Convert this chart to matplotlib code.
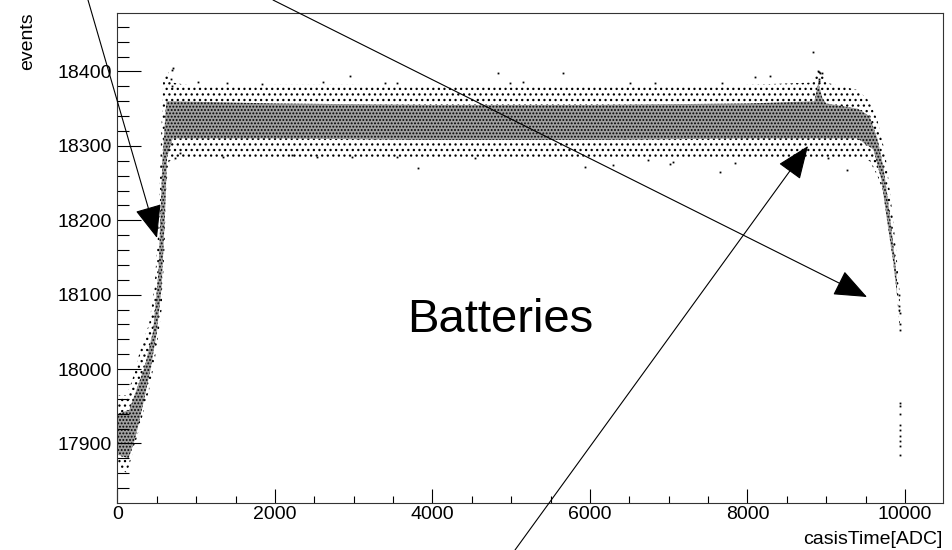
import numpy as np
import matplotlib
matplotlib.use('Agg')
import matplotlib.pyplot as plt
from matplotlib.patches import FancyArrowPatch

plt.rcParams['font.family'] = ['Liberation Sans', 'DejaVu Sans']
plt.rcParams['hatch.linewidth'] = 0.9

# outer envelope of the scatter cloud, upper edge then lower edge
outer_upper_x = [0, 120, 200, 300, 400, 470, 520, 550, 580, 640, 700, 1000, 2000, 3000, 4000,
                 5000, 6000, 7000, 8000, 8800, 8880, 8950, 9000, 9400, 9550, 9650, 9750,
                 9820, 9880, 9920, 9935]
outer_upper_y = [17965, 17965, 17990, 18030, 18060, 18110, 18190, 18300, 18390, 18400, 18385,
                 18380, 18382, 18382, 18380, 18380, 18380, 18380, 18382, 18385, 18400, 18400,
                 18385, 18375, 18360, 18335, 18290, 18230, 18170, 18120, 18100]
outer_lower_x = [9935, 9900, 9860, 9800, 9720, 9650, 9550, 9400, 9000, 8000, 7000, 6000, 5000,
                 4000, 3000, 2000, 1000, 660, 620, 600, 560, 500, 420, 300, 200, 120, 0]
outer_lower_y = [18050, 18100, 18140, 18185, 18240, 18260, 18280, 18285, 18285, 18282, 18282,
                 18282, 18282, 18282, 18285, 18285, 18285, 18280, 18250, 18170, 18080, 18030,
                 17980, 17930, 17890, 17860, 17870]

# dense core of the cloud
core_upper_x = [0, 150, 250, 350, 450, 520, 570, 620, 700, 2000, 4000, 6000, 8000, 8850, 8900,
                8950, 9000, 9400, 9550, 9650, 9730, 9800, 9860, 9900]
core_upper_y = [17940, 17945, 17975, 18005, 18050, 18130, 18280, 18360, 18360, 18357, 18355,
                18355, 18357, 18360, 18385, 18365, 18357, 18350, 18340, 18310, 18270, 18215,
                18160, 18120]
core_lower_x = [9900, 9850, 9780, 9700, 9600, 9400, 8000, 6000, 4000, 2000, 700, 630, 600, 560,
                500, 420, 320, 220, 140, 0]
core_lower_y = [18100, 18145, 18195, 18255, 18295, 18310, 18310, 18308, 18308, 18310, 18310,
                18285, 18200, 18110, 18050, 18000, 17950, 17905, 17880, 17885]

# isolated points outside the band
stray_x = [690, 700, 680, 690, 1022, 1390, 1835, 2952, 2610, 3397, 3550, 1340, 730, 2216, 2533,
           2978, 3550, 794, 4835, 5657, 3820, 5937, 7016, 4985, 5150, 6508, 6825, 6292, 4540,
           6737, 8832, 8895, 8920, 8946, 8905, 8915, 8095, 8286, 7676, 7054, 7651, 7841, 9263,
           9022, 9925, 9930, 9930, 9932, 9935, 9935, 9940, 9940, 9940, 9940, 9940, 9940, 9940,
           9940, 9940]
stray_y = [18402, 18405, 18390, 18380, 18386, 18385, 18383, 18394, 18386, 18385, 18385, 18285,
           18284, 18288, 18285, 18285, 18285, 18290, 18398, 18398, 18270, 18272, 18276, 18385,
           18386, 18385, 18385, 18274, 18284, 18281, 18426, 18400, 18398, 18398, 18390, 18387,
           18393, 18394, 18385, 18278, 18265, 18277, 18267, 18284, 18099, 18085, 18080, 18076,
           18060, 18053, 17954, 17950, 17940, 17925, 17918, 17910, 17903, 17896, 17884]

x_ticks = [0, 2000, 4000, 6000, 8000, 10000]
y_ticks = [17900, 18000, 18100, 18200, 18300, 18400]

W, H = 953, 550
fig = plt.figure(figsize=(W / 100, H / 100), dpi=100)
ax = fig.add_axes([117.5 / W, 47 / H, 825.2 / W, 490.3 / H])

outer_x = outer_upper_x + outer_lower_x
outer_y = outer_upper_y + outer_lower_y
core_x = core_upper_x + core_lower_x
core_y = core_upper_y + core_lower_y
ax.fill(outer_x, outer_y, facecolor='none', edgecolor='black', linewidth=0, hatch='...')
ax.fill(core_x, core_y, facecolor='#a0a0a0', edgecolor='black', linewidth=0, hatch='.....')
ax.plot(stray_x, stray_y, 's', color='black', markersize=1.3, markeredgewidth=0)

ax.set_xlim(0, 10480)
ax.set_ylim(17820, 18479)
ax.set_xticks(x_ticks)
ax.set_yticks(y_ticks)
ax.set_xticks(np.arange(0, 10480, 500), minor=True)
ax.set_yticks(np.arange(17840, 18479, 20), minor=True)
ax.tick_params(axis='x', which='major', direction='in', length=10, width=0.8, pad=2.5,
               labelsize=14, colors='black')
ax.tick_params(axis='x', which='minor', direction='in', length=5, width=0.8)
ax.tick_params(axis='y', which='major', direction='in', length=17, width=0.8, pad=4,
               labelsize=14, colors='black')
ax.tick_params(axis='y', which='minor', direction='in', length=8.6, width=0.8)
for sp in ax.spines.values():
    sp.set_linewidth(0.8)
    sp.set_color('#333333')

fig.text(27.5 / W, 1 - 12.7 / H, 'events', rotation=90, ha='center', va='top', fontsize=14)
fig.text(943 / W, 6 / H, 'casisTime[ADC]', ha='right', va='baseline', fontsize=14)
fig.text(500 / W, 1 - 332 / H, 'Batteries', ha='center', va='baseline', fontsize=34)

# arrows (pixel positions of tail and tip)
arrows = [((88, 0), (157, 238)), ((273, 0), (867, 297)), ((515, 550), (808, 146))]
for (tx, ty), (hx, hy) in arrows:
    a = FancyArrowPatch((tx / W, 1 - ty / H), (hx / W, 1 - hy / H),
                        transform=fig.transFigure, arrowstyle='-|>,head_length=21,head_width=8.5',
                        mutation_scale=1, color='black', linewidth=0.8, shrinkA=0, shrinkB=0)
    fig.patches.append(a)

fig.savefig('out.png', dpi=100)
